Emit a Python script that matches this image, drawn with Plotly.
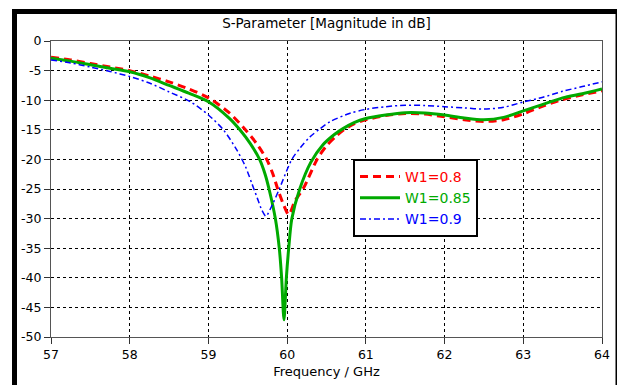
import plotly.graph_objects as go

# ---- data ----
freq_08 = [57.0, 57.25, 57.5, 57.75, 58.0, 58.25, 58.5, 58.75, 59.0, 59.27, 59.47, 59.61, 59.74,
           59.82, 59.88, 59.95, 60.02, 60.1, 60.21, 60.38, 60.5, 60.62, 60.72, 60.85, 61.0, 61.25,
           61.5, 61.75, 62.0, 62.25, 62.5, 62.75, 63.0, 63.25, 63.5, 63.75, 64.0]
s11_08 = [-2.75, -3.2, -3.8, -4.4, -5.0, -5.9, -6.9, -8.1, -9.6, -12.2, -15.0, -17.3, -20.0,
          -22.5, -25.0, -27.5, -29.3, -27.0, -24.8, -20.0, -17.7, -16.1, -15.0, -14.0, -13.3,
          -12.6, -12.25, -12.35, -12.8, -13.3, -13.6, -13.3, -12.3, -11.0, -9.9, -9.1, -8.4]

freq_085 = [57.0, 57.25, 57.5, 57.75, 58.0, 58.25, 58.5, 58.75, 59.0, 59.27, 59.4, 59.53, 59.65,
            59.72, 59.77, 59.85, 59.9, 59.93, 59.96, 59.99, 60.02, 60.06, 60.16, 60.3, 60.45,
            60.6, 60.71, 60.85, 61.0, 61.25, 61.5, 61.75, 62.0, 62.25, 62.5, 62.75, 63.0, 63.25,
            63.5, 63.75, 64.0]
s11_085 = [-2.9, -3.4, -4.0, -4.6, -5.2, -6.2, -7.5, -8.8, -10.25, -13.1, -15.0, -17.3, -20.0,
           -22.5, -25.0, -30.0, -35.0, -40.0, -47.1, -40.0, -35.0, -30.0, -25.0, -20.5, -17.6,
           -15.8, -14.8, -13.8, -13.1, -12.5, -12.1, -12.15, -12.5, -13.0, -13.3, -12.9, -11.8,
           -10.7, -9.6, -8.9, -8.1]

freq_09 = [57.0, 57.25, 57.5, 57.75, 58.0, 58.25, 58.5, 58.77, 59.0, 59.19, 59.36, 59.47, 59.55,
           59.62, 59.68, 59.73, 59.8, 59.9, 60.06, 60.17, 60.29, 60.42, 60.55, 60.8, 61.0, 61.25,
           61.5, 61.75, 62.0, 62.25, 62.5, 62.75, 63.0, 63.25, 63.5, 63.75, 64.0]
s11_09 = [-3.2, -3.7, -4.4, -5.15, -6.0, -7.1, -8.6, -10.25, -12.5, -15.0, -18.4, -21.2, -24.0,
          -26.5, -28.6, -29.6, -28.0, -25.0, -20.0, -18.0, -16.2, -14.8, -13.6, -12.2, -11.55,
          -11.1, -10.85, -10.9, -11.1, -11.3, -11.5, -11.2, -10.3, -9.5, -8.5, -7.7, -6.9]

series_names = ["W1=0.8", "W1=0.85", "W1=0.9"]
x_ticks = [57, 58, 59, 60, 61, 62, 63, 64]
y_ticks = [0, -5, -10, -15, -20, -25, -30, -35, -40, -45, -50]

FONT = "DejaVu Sans"
RED, GREEN, BLUE = "#ff0000", "#00aa00", "#0000ff"

fig = go.Figure()
fig.add_trace(go.Scatter(
    x=freq_08, y=s11_08, mode="lines",
    name=f'<span style="color:{RED}">{series_names[0]}</span>',
    line=dict(color=RED, width=3, dash="8px,5px", shape="spline", smoothing=0.8)))
fig.add_trace(go.Scatter(
    x=freq_085, y=s11_085, mode="lines",
    name=f'<span style="color:{GREEN}">{series_names[1]}</span>',
    line=dict(color=GREEN, width=3, shape="spline", smoothing=0.8)))
fig.add_trace(go.Scatter(
    x=freq_09, y=s11_09, mode="lines",
    name=f'<span style="color:{BLUE}">{series_names[2]}</span>',
    line=dict(color=BLUE, width=1.5, dash="6px,3px,2px,3px", shape="spline", smoothing=0.8)))

# The page body has an 8px margin, so the figure is drawn 8px smaller and
# all pixel positions below are in window pixels minus 8.
OFF = 8
W, H = 625 - OFF, 385 - OFF
L, T = 51 - OFF, 41 - OFF
R = W - (602 - OFF)
B = H - (337 - OFF)
pw, ph = W - L - R, H - T - B

def px_to_paper_x(px):
    return (px - OFF - L) / pw

def px_to_paper_y(py):
    return (H - B - (py - OFF)) / ph

fig.update_layout(
    width=W, height=H,
    margin=dict(l=L, r=R, t=T, b=B, autoexpand=False),
    paper_bgcolor="white", plot_bgcolor="white",
    font=dict(family=FONT, size=12, color="black"),
    title=dict(text="S-Parameter [Magnitude in dB]", x=0.5, xref="paper",
               y=1 - (23 - OFF) / H, yref="container", yanchor="middle", xanchor="center",
               font=dict(family=FONT, size=13.5, color="black")),
    showlegend=True,
    legend=dict(x=px_to_paper_x(353), y=px_to_paper_y(159), xanchor="left", yanchor="top",
                bgcolor="white", bordercolor="black", borderwidth=2,
                font=dict(family=FONT, size=14), itemwidth=40, tracegroupgap=0),
    xaxis=dict(range=[57, 64], tickvals=x_ticks, ticktext=[str(v) for v in x_ticks],
               showgrid=True, gridcolor="black", griddash="3px,3px", gridwidth=1,
               showline=True, linecolor="#555555", linewidth=1, mirror=True,
               ticks="outside", ticklen=6, tickcolor="#333333",
               tickfont=dict(family=FONT, size=12.5, color="black"),
               zeroline=False,
               title=dict(text="Frequency / GHz", standoff=5,
                          font=dict(family=FONT, size=13, color="black"))),
    yaxis=dict(range=[-50, 0], tickvals=y_ticks, ticktext=[str(v) for v in y_ticks],
               showgrid=True, gridcolor="black", griddash="3px,3px", gridwidth=1,
               showline=True, linecolor="#555555", linewidth=1, mirror=True,
               ticks="outside", ticklen=6, tickcolor="#333333",
               tickfont=dict(family=FONT, size=12.5, color="black"),
               zeroline=False),
)

# thick black outer frame (bottom edge is outside the picture)
fig.add_shape(type="rect", xref="paper", yref="paper",
              x0=px_to_paper_x(14.5), x1=px_to_paper_x(618),
              y0=px_to_paper_y(420), y1=px_to_paper_y(11.5),
              line=dict(color="black", width=5), fillcolor="rgba(0,0,0,0)", layer="above")

fig.write_html("out.html")
